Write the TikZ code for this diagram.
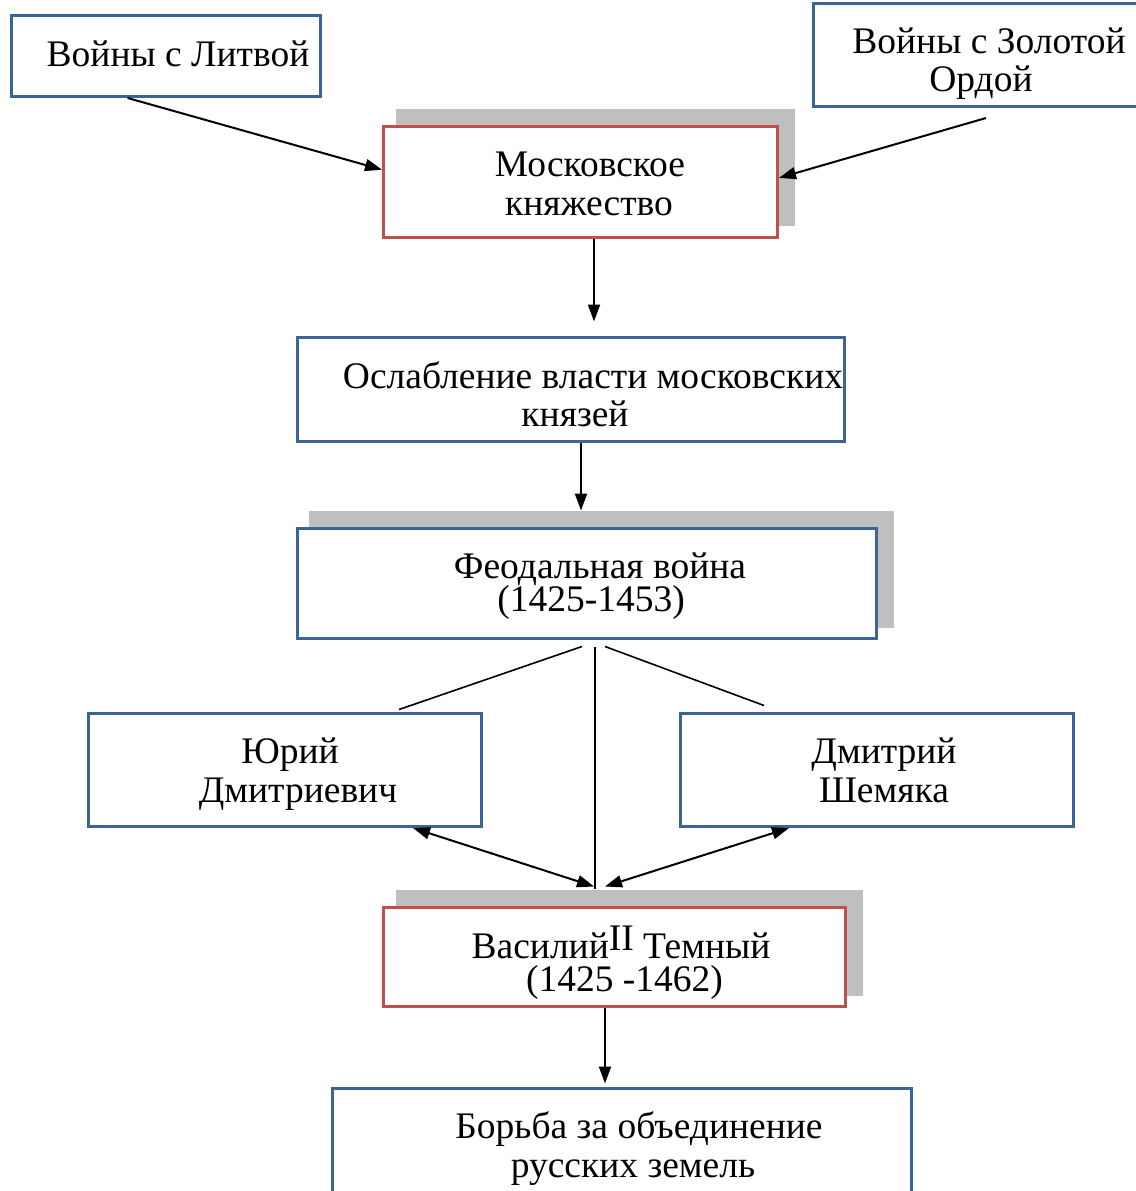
\documentclass[tikz,border=0pt]{standalone}
\usepackage{fontspec}
\setmainfont{Liberation Serif}
\usetikzlibrary{arrows.meta,calc}
\definecolor{bblue}{HTML}{3A6596}
\definecolor{rred}{HTML}{C0504D}
\definecolor{shgray}{HTML}{BFBFBF}
\tikzset{
  box/.style={draw=bblue, line width=3pt, fill=white, inner sep=0pt},
  redbox/.style={box, draw=rred},
  shadowbox/.style={fill=shgray, draw=none, inner sep=0pt},
  lbl/.style={anchor=base, font=\fontsize{37.5}{39}\selectfont, inner sep=0pt},
  arr/.style={-{Triangle[length=17pt,width=12pt]}, line width=2pt},
  dbl/.style={{Triangle[length=17pt,width=12pt]}-{Triangle[length=17pt,width=12pt]}, line width=2pt},
  thinline/.style={line width=1.6pt}
}
\begin{document}
\begin{tikzpicture}[x=1pt,y=-1pt]
\useasboundingbox (0,0) rectangle (1135,1191);
% shadows
\node[shadowbox, minimum width=399pt, minimum height=117pt] (s3) at (595.5,167.5) {};
\node[shadowbox, minimum width=585pt, minimum height=117pt] (s5) at (601.5,569.5) {};
\node[shadowbox, minimum width=467pt, minimum height=106pt] (s8) at (629.5,943) {};
% boxes
\node[box, minimum width=309pt, minimum height=81pt] (b1) at (166,56) {};
\node[box, minimum width=326.5pt, minimum height=103pt] (b2) at (976.75,55) {};
\node[redbox, minimum width=394pt, minimum height=111pt] (b3) at (580.5,182) {};
\node[box, minimum width=547pt, minimum height=104pt] (b4) at (571,389.5) {};
\node[box, minimum width=579pt, minimum height=110pt] (b5) at (587,583.5) {};
\node[box, minimum width=393pt, minimum height=113pt] (b6) at (285,770) {};
\node[box, minimum width=393pt, minimum height=113pt] (b7) at (877,770) {};
\node[redbox, minimum width=462pt, minimum height=99pt] (b8) at (614.5,957) {};
\node[box, minimum width=579pt, minimum height=111.5pt] (b9) at (622,1144.25) {};
% texts
\node[lbl] (t1) at (178,66) {Войны с Литвой};
\node[lbl] (t2a) at (989,53) {Войны с Золотой};
\node[lbl] (t2b) at (981,91) {Ордой};
\node[lbl] (t3a) at (590,176) {Московское};
\node[lbl] (t3b) at (589,215) {княжество};
\node[lbl] (t4a) at (593,388) {Ослабление власти московских};
\node[lbl] (t4b) at (575,426) {князей};
\node[lbl] (t5a) at (600,578) {Феодальная война};
\node[lbl] (t5b) at (591,611) {(1425-1453)};
\node[lbl] (t6a) at (290,763) {Юрий};
\node[lbl] (t6b) at (298,802) {Дмитриевич};
\node[lbl] (t7a) at (884,763) {Дмитрий};
\node[lbl] (t7b) at (884,802) {Шемяка};
\node[lbl] (t8a) at (621,958) {Василий\raisebox{8pt}{II} Темный};
\node[lbl] (t8b) at (624.5,991) {(1425 -1462)};
\node[lbl] (t9a) at (639,1138) {Борьба за объединение};
\node[lbl] (t9b) at (633,1177) {русских земель};
% connectors
\coordinate (a2s) at (986,118);
\draw[arr] ($(b1.south west)!0.377!(b1.south east)$) -- ($(b3.north west)!0.392!(b3.south west)$);
\draw[arr] (a2s) -- ($(b3.north east)!0.464!(b3.south east)$);
\draw[arr] ($(b3.south)+(13.5,0)$) -- ($(b4.north)+(23,-14.5)$);
\draw[arr] ($(b4.south)+(10,0)$) -- ($(b5.north)+(-6,-16.5)$);
\draw[thinline] ($(b5.south)+(-5,6.5)$) -- ($(b6.north)+(114,-2.5)$);
\draw[thinline] ($(b5.south)+(8,6.5)$) -- ($(b8.north)+(-19.5,-17.5)$);
\draw[thinline] ($(b5.south)+(18,6.5)$) -- ($(b7.north)+(-113,-6.5)$);
\draw[dbl] ($(b6.south)+(128,0)$) -- ($(b8.north)+(-20.5,-19.5)$);
\draw[dbl] ($(b7.south)+(-88,0)$) -- ($(b8.north)+(-9.5,-19.5)$);
\draw[arr] ($(b8.south)+(-9.5,0)$) -- ($(b9.north)+(-17,-3.5)$);
\end{tikzpicture}
\end{document}
